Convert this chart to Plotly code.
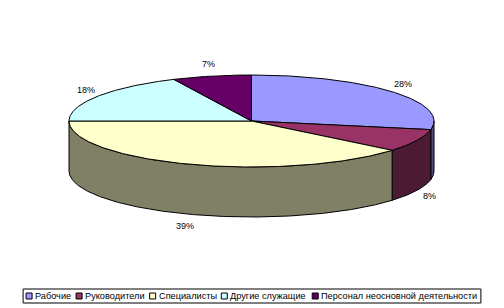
import numpy as np
import plotly.graph_objects as go

# ---------------- data ----------------
categories = ["Рабочие", "Руководители", "Специалисты", "Другие служащие",
              "Персонал неосновной деятельности"]
shares = [28, 8, 39, 18, 7]
pct_labels = ["28%", "8%", "39%", "18%", "7%"]
top_colors = ["#9999FF", "#993366", "#FFFFCC", "#CCFFFF", "#660066"]
side_colors = ["#4D4D80", "#4D1A33", "#808066", "#668080", "#330033"]

# ---------------- geometry (pixel space) ----------------
W, H = 504, 308
CX, CY, RX, RY, DEPTH = 251.5, 121.0, 182.5, 46.0, 50.0
FONT = "Arial, Liberation Sans, sans-serif"


def pt(theta_deg, dy=0.0, kx=0.0, ky=0.0):
    t = np.radians(theta_deg)
    return CX + (RX + kx) * np.sin(t), CY - (RY + ky) * np.cos(t) + dy


def arc(a1, a2, dy=0.0):
    n = max(2, int(abs(a2 - a1) * 2) + 1)
    th = np.linspace(a1, a2, n)
    xs, ys = pt(th, dy)
    return list(xs), list(ys)


total = float(sum(shares))
bounds = [0.0]
for s in shares:
    bounds.append(bounds[-1] + 360.0 * s / total)

fig = go.Figure()

# side walls (front half only: 90..270 deg)
for i in range(len(shares)):
    a1, a2 = bounds[i], bounds[i + 1]
    s, e = max(a1, 90.0), min(a2, 270.0)
    if s < e:
        tx, ty = arc(s, e)
        bx, by = arc(e, s, DEPTH)
        fig.add_trace(go.Scatter(
            x=tx + bx + [tx[0]], y=ty + by + [ty[0]], mode="lines",
            fill="toself", fillcolor=side_colors[i],
            line=dict(color="black", width=1), hoverinfo="skip",
            showlegend=False))

# top faces
for i in range(len(shares)):
    a1, a2 = bounds[i], bounds[i + 1]
    ax, ay = arc(a1, a2)
    fig.add_trace(go.Scatter(
        x=[CX] + ax + [CX], y=[CY] + ay + [CY], mode="lines",
        fill="toself", fillcolor=top_colors[i],
        line=dict(color="black", width=1), hoverinfo="skip",
        name=categories[i], showlegend=False))

# percentage labels
for i in range(len(shares)):
    mid = (bounds[i] + bounds[i + 1]) / 2.0
    front = np.cos(np.radians(mid)) < 0
    lx, ly = pt(mid, DEPTH if front else 0.0, 14, 12)
    fig.add_annotation(x=float(lx), y=float(ly), text=pct_labels[i],
                       showarrow=False, xanchor="center", yanchor="middle",
                       font=dict(family=FONT, size=9, color="#000000"))

# ---------------- custom legend ----------------
CW = {"ы": .729, "ж": .781, "щ": .906, "ш": .823, "м": .677, "ю": .802,
      "т": .438, "г": .365, "к": .458, "с": .5, "з": .469, "у": .5,
      "ч": .531, "в": .531, "ь": .531, "я": .542, "л": .573, "б": .573,
      "д": .583, "и": .583, "й": .583, "ц": .583, "н": .573, "п": .552,
      "а": .556, "е": .556, "о": .556, "р": .556, "Р": .667, "С": .722,
      "Д": .677, "П": .729, " ": .278}
LFS = 9.2


def text_w(s):
    return sum(CW.get(c, .56) for c in s) * LFS


SQ, GAP_T, GAP_I = 6, 2, 5
widths = [SQ + GAP_T + text_w(c) for c in categories]
tot_w = sum(widths) + GAP_I * (len(categories) - 1)
x0 = W / 2 - tot_w / 2
LY = 296
sq_x = []
for i, c in enumerate(categories):
    sq_x.append(x0 + SQ / 2)
    fig.add_annotation(x=x0 + SQ + GAP_T, y=LY, text=c, showarrow=False,
                       xanchor="left", yanchor="middle", borderpad=0,
                       font=dict(family=FONT, size=LFS, color="#000000"))
    x0 += widths[i] + GAP_I
fig.add_trace(go.Scatter(
    x=sq_x, y=[LY] * len(sq_x), mode="markers", hoverinfo="skip",
    marker=dict(symbol="square", size=SQ, color=top_colors,
                line=dict(color="black", width=1)),
    showlegend=False))
fig.add_shape(type="rect", x0=W / 2 - tot_w / 2 - 3, x1=W / 2 + tot_w / 2 + 3,
              y0=LY - 7, y1=LY + 7, line=dict(color="black", width=1),
              fillcolor="rgba(0,0,0,0)", layer="below")

fig.update_layout(
    width=W, height=H, margin=dict(l=0, r=0, t=0, b=0),
    paper_bgcolor="white", plot_bgcolor="white",
    xaxis=dict(range=[0, W], visible=False, fixedrange=True),
    yaxis=dict(range=[H, 0], visible=False, fixedrange=True),
    showlegend=False,
)
fig.write_html("out.html")
